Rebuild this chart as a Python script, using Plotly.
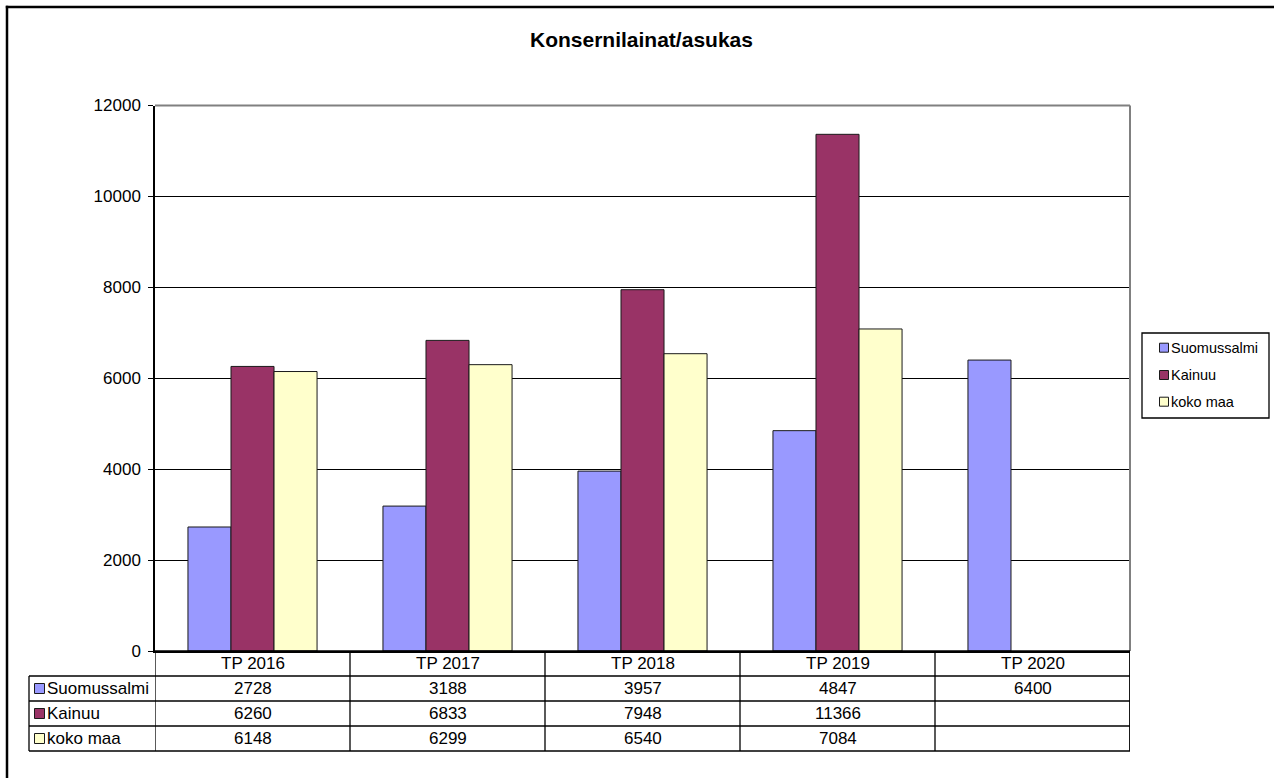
import plotly.graph_objects as go

# ---- data ----
categories = ["TP 2016", "TP 2017", "TP 2018", "TP 2019", "TP 2020"]
series_names = ["Suomussalmi", "Kainuu", "koko maa"]
suomussalmi = [2728, 3188, 3957, 4847, 6400]
kainuu = [6260, 6833, 7948, 11366, None]
koko_maa = [6148, 6299, 6540, 7084, None]
title_text = "Konsernilainat/asukas"
y_ticks = [0, 2000, 4000, 6000, 8000, 10000, 12000]

series_values = [suomussalmi, kainuu, koko_maa]
colors = ["#9999FF", "#993366", "#FFFFCC"]

W, H = 1274, 778
FONT = "Arial, 'Liberation Sans', sans-serif"
TXT = 17


def px(x):
    return x / W


def py(y):
    return 1 - y / H


PLOT_L, PLOT_R, PLOT_T, PLOT_B = 155, 1130, 105.5, 651
TABLE_L = 29
ROW_LINES = [651, 676, 701, 726, 751]

fig = go.Figure()
for name, vals, col in zip(series_names, series_values, colors):
    fig.add_trace(go.Bar(
        x=categories, y=vals, name=name,
        marker=dict(color=col, line=dict(color="#1a1a1a", width=1)),
        showlegend=False,
    ))

shapes = []
annotations = []

# outer chart border (only left & top edges fall inside the picture)
shapes.append(dict(type="line", xref="paper", yref="paper",
                   x0=px(7), x1=px(7), y0=py(5.8), y1=0,
                   line=dict(color="black", width=2.5), layer="below"))
shapes.append(dict(type="line", xref="paper", yref="paper",
                   x0=px(5.8), x1=1, y0=py(7), y1=py(7),
                   line=dict(color="black", width=2.5), layer="below"))

# plot-area frame (gray top & right)
shapes.append(dict(type="line", xref="paper", yref="paper",
                   x0=px(PLOT_L), x1=px(PLOT_R), y0=py(PLOT_T), y1=py(PLOT_T),
                   line=dict(color="#808080", width=2), layer="above"))
shapes.append(dict(type="line", xref="paper", yref="paper",
                   x0=px(PLOT_R), x1=px(PLOT_R), y0=py(PLOT_T), y1=py(PLOT_B),
                   line=dict(color="#808080", width=2), layer="above"))

# data table horizontal lines
for i, yl in enumerate(ROW_LINES):
    x0 = PLOT_L if i == 0 else TABLE_L
    shapes.append(dict(type="line", xref="paper", yref="paper",
                       x0=px(x0), x1=px(PLOT_R), y0=py(yl), y1=py(yl),
                       line=dict(color="black", width=1.3)))
# table vertical lines
shapes.append(dict(type="line", xref="paper", yref="paper",
                   x0=px(TABLE_L), x1=px(TABLE_L), y0=py(ROW_LINES[1]), y1=py(ROW_LINES[-1]),
                   line=dict(color="black", width=1.3)))
for k in range(len(categories) + 1):
    shapes.append(dict(type="line", xref="x", yref="paper",
                       x0=k - 0.5, x1=k - 0.5, y0=py(ROW_LINES[0]), y1=py(ROW_LINES[-1]),
                       line=dict(color="black", width=1.8 if k == len(categories) else 1.3)))

# header labels
for c in categories:
    annotations.append(dict(xref="x", yref="paper", x=c, y=py((ROW_LINES[0] + ROW_LINES[1]) / 2),
                            text=c, showarrow=False, xanchor="center", yanchor="middle",
                            font=dict(family=FONT, size=TXT, color="black")))

# rows
for r, (name, vals, col) in enumerate(zip(series_names, series_values, colors)):
    yc = (ROW_LINES[r + 1] + ROW_LINES[r + 2]) / 2
    shapes.append(dict(type="rect", xref="paper", yref="paper",
                       x0=px(34.5), x1=px(44.5), y0=py(yc - 5), y1=py(yc + 5),
                       fillcolor=col, line=dict(color="#1a1a1a", width=1)))
    annotations.append(dict(xref="paper", yref="paper", x=px(45), y=py(yc),
                            text=name, showarrow=False, xanchor="left", yanchor="middle",
                            font=dict(family=FONT, size=TXT, color="black")))
    for c, v in zip(categories, vals):
        if v is None:
            continue
        annotations.append(dict(xref="x", yref="paper", x=c, y=py(yc),
                                text=str(v), showarrow=False, xanchor="center", yanchor="middle",
                                font=dict(family=FONT, size=TXT, color="black")))

# legend (manual, Excel-like)
shapes.append(dict(type="rect", xref="paper", yref="paper",
                   x0=px(1142), x1=px(1269), y0=py(333), y1=py(418),
                   line=dict(color="black", width=1.3), fillcolor="white"))
leg_y = [347.7, 375, 401.7]
for name, col, yc in zip(series_names, colors, leg_y):
    shapes.append(dict(type="rect", xref="paper", yref="paper",
                       x0=px(1159.5), x1=px(1168.5), y0=py(yc - 4.5), y1=py(yc + 4.5),
                       fillcolor=col, line=dict(color="#1a1a1a", width=1)))
    annotations.append(dict(xref="paper", yref="paper", x=px(1169), y=py(yc),
                            text=name, showarrow=False, xanchor="left", yanchor="middle",
                            font=dict(family=FONT, size=14.5, color="black")))

# title
annotations.append(dict(xref="paper", yref="paper", x=px(641.5), y=py(39),
                        text="<b>" + title_text + "</b>", showarrow=False,
                        xanchor="center", yanchor="middle",
                        font=dict(family=FONT, size=21, color="black")))

fig.update_layout(
    width=W, height=H, autosize=False,
    margin=dict(l=0, r=0, t=0, b=0, pad=0),
    paper_bgcolor="white", plot_bgcolor="white",
    barmode="group", bargap=0.338, bargroupgap=0,
    font=dict(family=FONT, color="black"),
    shapes=shapes, annotations=annotations,
    xaxis=dict(domain=[px(PLOT_L), px(PLOT_R)], type="category", automargin=False,
               showticklabels=False, ticks="", showgrid=False,
               showline=True, linecolor="black", linewidth=1.5, zeroline=False,
               range=[-0.5, len(categories) - 0.5]),
    yaxis=dict(domain=[py(PLOT_B), py(PLOT_T)], range=[0, 12000], automargin=False,
               tickvals=y_ticks, ticktext=[str(t) for t in y_ticks],
               ticks="outside", ticklen=5, tickcolor="black", tickwidth=1,
               showgrid=True, gridcolor="black", gridwidth=1,
               showline=True, linecolor="black", linewidth=1.5, zeroline=False,
               tickfont=dict(family=FONT, size=TXT, color="black"),
               ticklabelstandoff=4),
)

fig.write_html(
    "out.html",
    config={"displayModeBar": False},
    post_script=(
        "document.documentElement.style.margin='0';"
        "document.body.style.margin='0';"
        "document.body.style.overflow='hidden';"
        "document.documentElement.style.overflow='hidden';"
    ),
)
